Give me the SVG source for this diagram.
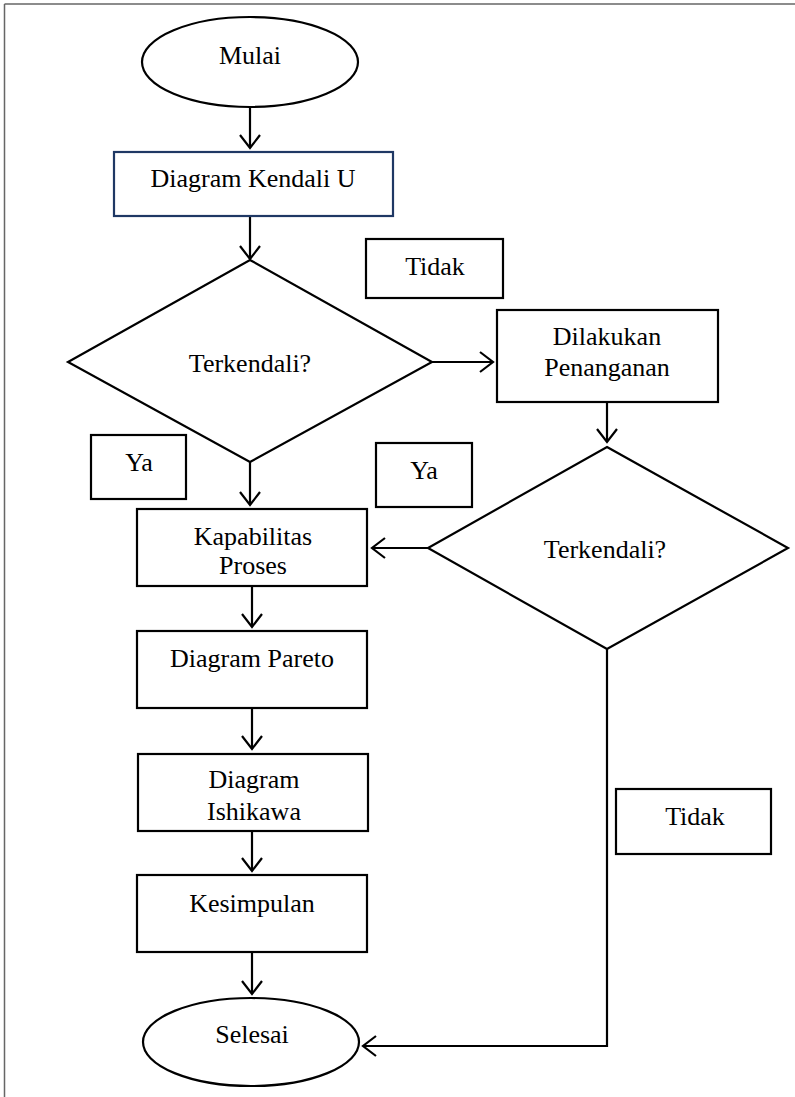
<svg xmlns="http://www.w3.org/2000/svg" width="795" height="1097" viewBox="0 0 795 1097">
<defs>
<marker id="ah" markerUnits="userSpaceOnUse" markerWidth="24" markerHeight="24" refX="12" refY="12" orient="auto" overflow="visible">
<path d="M-1,2 L12,12 L-1,22" fill="none" stroke="#000" stroke-width="2.2"/>
</marker>
<style>
.s{fill:#fff;stroke:#000;stroke-width:2.2}
.b{fill:#fff;stroke:#1f3864;stroke-width:2.2}
.t{font-family:"Liberation Serif","Times New Roman",serif;font-size:26px;fill:#000;text-anchor:middle}
.c{fill:none;stroke:#000;stroke-width:2.2;marker-end:url(#ah)}
.p{fill:none;stroke:#000;stroke-width:2.2}
</style>
</defs>
<rect width="795" height="1097" fill="#fff"/>
<g id="frame">
<line x1="4.5" y1="4" x2="795" y2="4" stroke="#666" stroke-width="1.5"/>
<line x1="4.5" y1="4" x2="4.5" y2="1097" stroke="#666" stroke-width="1.5"/>
</g>
<g id="connectors">
<line class="c" x1="250" y1="107" x2="250" y2="148"/>
<line class="c" x1="250" y1="216" x2="250" y2="259"/>
<line class="c" x1="432" y1="362" x2="493" y2="362"/>
<line class="c" x1="607" y1="402" x2="607" y2="442"/>
<line class="c" x1="250" y1="462" x2="250" y2="505"/>
<line class="c" x1="428" y1="548" x2="372" y2="548"/>
<line class="c" x1="252" y1="586" x2="252" y2="627"/>
<line class="c" x1="252" y1="708" x2="252" y2="749"/>
<line class="c" x1="252" y1="831" x2="252" y2="871"/>
<line class="c" x1="252" y1="952" x2="252" y2="994"/>
<polyline class="c" points="607,649 607,1046 363,1046"/>
</g>
<g id="mulai">
<ellipse class="s" cx="250" cy="62" rx="108" ry="45"/>
<text class="t" x="250" y="64">Mulai</text>
</g>
<g id="kendali">
<rect class="b" x="114" y="152" width="279" height="64"/>
<text class="t" x="253" y="187">Diagram Kendali U</text>
</g>
<g id="terkendali1">
<polygon class="s" points="250,260 432,362 250,462 68,362"/>
<text class="t" x="250" y="372">Terkendali?</text>
</g>
<g id="tidak1">
<rect class="s" x="366" y="239" width="137" height="59"/>
<text class="t" x="435" y="275">Tidak</text>
</g>
<g id="penanganan">
<rect class="s" x="497" y="310" width="221" height="92"/>
<text class="t" x="607" y="345">Dilakukan</text>
<text class="t" x="607" y="376">Penanganan</text>
</g>
<g id="terkendali2">
<polygon class="s" points="607,447 788,548 607,649 428,548"/>
<text class="t" x="605" y="558">Terkendali?</text>
</g>
<g id="ya1">
<rect class="s" x="91" y="435" width="95" height="64"/>
<text class="t" x="139" y="471">Ya</text>
</g>
<g id="ya2">
<rect class="s" x="376" y="443" width="96" height="64"/>
<text class="t" x="424" y="479">Ya</text>
</g>
<g id="kapabilitas">
<rect class="s" x="137" y="509" width="230" height="77"/>
<text class="t" x="253" y="545">Kapabilitas</text>
<text class="t" x="253" y="574">Proses</text>
</g>
<g id="pareto">
<rect class="s" x="137" y="631" width="230" height="77"/>
<text class="t" x="252" y="667">Diagram Pareto</text>
</g>
<g id="ishikawa">
<rect class="s" x="138" y="754" width="230" height="77"/>
<text class="t" x="254" y="788">Diagram</text>
<text class="t" x="254" y="820">Ishikawa</text>
</g>
<g id="kesimpulan">
<rect class="s" x="137" y="875" width="230" height="77"/>
<text class="t" x="252" y="912">Kesimpulan</text>
</g>
<g id="tidak2">
<rect class="s" x="616" y="789" width="155" height="65"/>
<text class="t" x="695" y="825">Tidak</text>
</g>
<g id="selesai">
<ellipse class="s" cx="251" cy="1042" rx="108" ry="44"/>
<text class="t" x="252" y="1043">Selesai</text>
</g>
</svg>
